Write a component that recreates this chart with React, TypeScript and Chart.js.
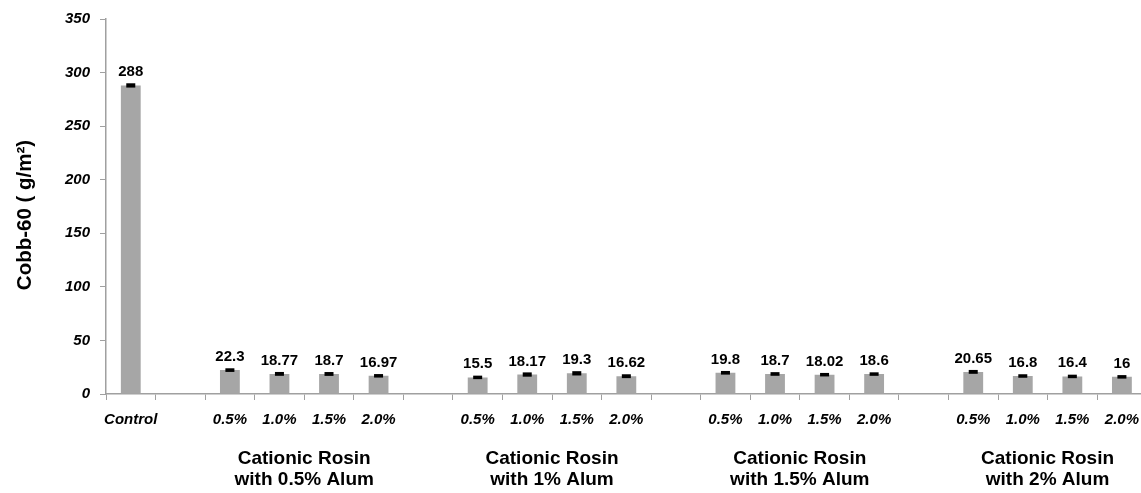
import React, { useEffect, useRef } from "react";
import { Chart, registerables } from "chart.js";

Chart.register(...registerables);

const controlLabel = "Control";
const controlValue = 288;
const controlError = 2.0;
const concentrations = ["0.5%", "1.0%", "1.5%", "2.0%"];
const groupTitles = [
  ["Cationic Rosin", "with 0.5% Alum"],
  ["Cationic Rosin", "with 1% Alum"],
  ["Cationic Rosin", "with 1.5% Alum"],
  ["Cationic Rosin", "with 2% Alum"],
];
const alum05 = [22.3, 18.77, 18.7, 16.97];
const alum1 = [15.5, 18.17, 19.3, 16.62];
const alum15 = [19.8, 18.7, 18.02, 18.6];
const alum2 = [20.65, 16.8, 16.4, 16];
const alum05Err = [1.7, 1.8, 1.8, 1.6];
const alum1Err = [1.5, 2.0, 2.0, 1.8];
const alum15Err = [1.7, 1.7, 1.6, 1.6];
const alum2Err = [1.8, 1.6, 1.6, 1.6];
const yTicks = [0, 50, 100, 150, 200, 250, 300, 350];
const yTitle = "Cobb-60 ( g/m\u00B2)";

const groups = [alum05, alum1, alum15, alum2];
const groupErrs = [alum05Err, alum1Err, alum15Err, alum2Err];

const labels: string[] = [controlLabel];
const values: (number | null)[] = [controlValue];
const errors: (number | null)[] = [controlError];
const groupIndices: number[][] = [];
groups.forEach((g, gi) => {
  labels.push("");
  values.push(null);
  errors.push(null);
  const idx: number[] = [];
  g.forEach((v, i) => {
    idx.push(labels.length);
    labels.push(concentrations[i]);
    values.push(v);
    errors.push(groupErrs[gi][i]);
  });
  groupIndices.push(idx);
});

const FONT = "'Liberation Sans', Arial, sans-serif";
const AXIS_GRAY = "#a0a0a0";

const overlayPlugin = {
  id: "overlay",
  afterDatasetsDraw(chart: any) {
    const ctx = chart.ctx;
    const x = chart.scales.x;
    const y = chart.scales.y;
    ctx.save();
    values.forEach((v, i) => {
      if (v === null) return;
      const cx = x.getPixelForValue(i);
      const e = errors[i] || 0;
      let top = y.getPixelForValue(v + e);
      let bot = y.getPixelForValue(v - e);
      if (bot - top < 3.5) {
        const m = (top + bot) / 2;
        top = m - 1.75;
        bot = m + 1.75;
      }
      ctx.fillStyle = "#000";
      ctx.fillRect(cx - 4.5, top, 9, bot - top);
      ctx.font = `bold 15px ${FONT}`;
      ctx.textAlign = "center";
      ctx.textBaseline = "alphabetic";
      ctx.fillText(String(v), cx, y.getPixelForValue(v) - 9);
    });
    ctx.font = `bold 19px ${FONT}`;
    ctx.textAlign = "center";
    ctx.textBaseline = "middle";
    ctx.fillStyle = "#000";
    groupIndices.forEach((idx, gi) => {
      const cx = (x.getPixelForValue(idx[0]) + x.getPixelForValue(idx[idx.length - 1])) / 2;
      ctx.fillText(groupTitles[gi][0], cx, 459);
      ctx.fillText(groupTitles[gi][1], cx, 480);
    });
    ctx.translate(25, 215);
    ctx.rotate(-Math.PI / 2);
    ctx.font = `bold 20.5px ${FONT}`;
    ctx.fillText(yTitle, 0, 0);
    ctx.restore();
  },
};

export default function App() {
  const ref = useRef<HTMLCanvasElement | null>(null);
  useEffect(() => {
    if (!ref.current) return;
    const chart = new Chart(ref.current, {
      type: "bar",
      data: {
        labels,
        datasets: [
          {
            data: values,
            backgroundColor: "#a6a6a6",
            borderWidth: 0,
            barPercentage: 0.4,
            categoryPercentage: 1.0,
          },
        ],
      },
      options: {
        responsive: false,
        animation: false,
        devicePixelRatio: 1,
        layout: { padding: { top: 18, left: 0, right: 0, bottom: 0 } },
        plugins: {
          legend: { display: false },
          tooltip: { enabled: false },
        },
        scales: {
          x: {
            type: "category",
            grid: {
              offset: true,
              drawOnChartArea: false,
              drawTicks: true,
              tickLength: 6,
              color: AXIS_GRAY,
            },
            border: { color: AXIS_GRAY, width: 1.5 },
            ticks: {
              autoSkip: false,
              maxRotation: 0,
              minRotation: 0,
              padding: 11,
              color: "#000",
              font: { family: FONT, size: 15, weight: "bold", style: "italic" },
            },
            afterFit: (s: any) => {
              s.height = 99;
            },
          },
          y: {
            min: 0,
            max: 350,
            afterBuildTicks: (s: any) => {
              s.ticks = yTicks.map((v) => ({ value: v }));
            },
            grid: {
              drawOnChartArea: false,
              drawTicks: true,
              tickLength: 6,
              color: AXIS_GRAY,
            },
            border: { color: AXIS_GRAY, width: 1.5 },
            ticks: {
              padding: 10,
              color: "#000",
              font: { family: FONT, size: 15, weight: "bold", style: "italic" },
            },
            afterFit: (s: any) => {
              s.width = 106;
            },
          },
        },
      } as any,
      plugins: [overlayPlugin],
    });
    return () => chart.destroy();
  }, []);
  return (
    <div
      style={{
        position: "fixed",
        left: 0,
        top: 0,
        width: 1141,
        height: 493,
        overflow: "hidden",
        background: "#fff",
      }}
    >
      <canvas ref={ref} width={1150} height={493} style={{ display: "block" }} />
    </div>
  );
}
